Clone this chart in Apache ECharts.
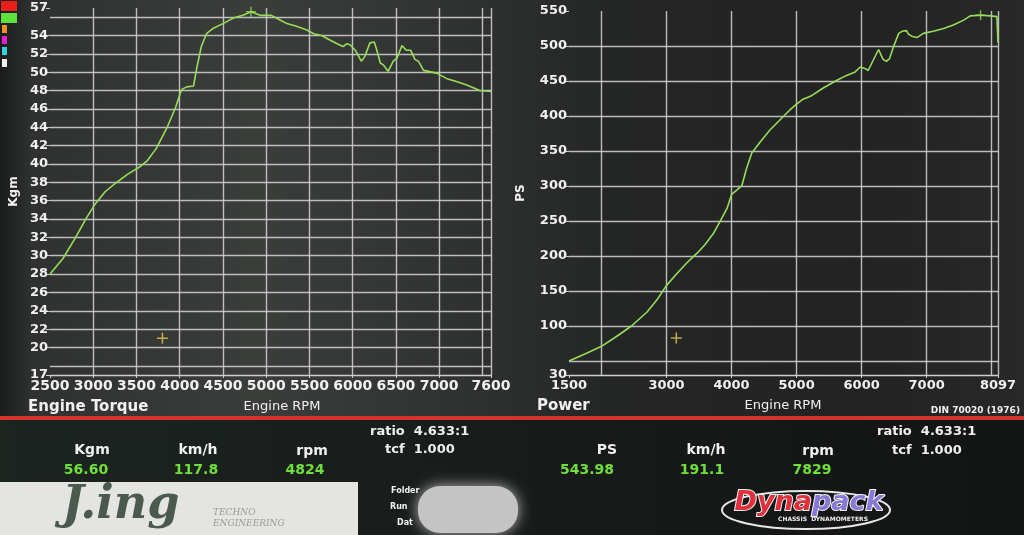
<!DOCTYPE html>
<html><head><meta charset="utf-8">
<script src="https://cdn.jsdelivr.net/npm/echarts@6/dist/echarts.min.js"></script>
<style>html,body{margin:0;padding:0;background:#222;}#c{width:1024px;height:535px;}</style>
</head><body><div id="c"></div>
<script>
// ---- Engine Torque (Kgm vs rpm) ----
const torqueRpm = [2500,2650,2790,2920,3020,3140,3270,3400,3540,3620,3730,3850,3950,4020,4080,4160,4200,4250,4310,4390,4500,4620,4730,4824,4930,5060,5160,5240,5350,5470,5550,5640,5720,5820,5890,5930,5970,6030,6100,6140,6200,6250,6280,6320,6355,6410,6470,6510,6570,6620,6670,6720,6760,6820,6970,7090,7200,7320,7470,7600];
const torqueKgm = [28.0,29.7,31.9,34.1,35.6,37.0,38.0,38.9,39.7,40.3,41.7,43.9,46.1,48.1,48.4,48.5,50.6,52.8,54.2,54.8,55.3,55.9,56.2,56.6,56.2,56.2,55.7,55.3,55.0,54.6,54.2,54.0,53.6,53.1,52.8,53.1,53.0,52.4,51.2,51.7,53.2,53.3,52.4,51.0,50.8,50.1,51.2,51.5,52.9,52.4,52.4,51.4,51.2,50.2,49.9,49.3,49.0,48.6,48.0,47.9];
// ---- Power (PS vs rpm) ----
const powerRpm = [1500,1770,2000,2230,2460,2700,2850,3000,3160,3310,3470,3590,3720,3850,3930,4000,4080,4160,4230,4310,4440,4590,4750,4900,5000,5100,5230,5410,5620,5770,5900,5980,6050,6100,6180,6260,6330,6380,6430,6490,6570,6620,6690,6720,6770,6850,6950,7100,7260,7410,7570,7670,7829,7980,8080,8097];
const powerPs = [50,61,71,85,100,120,137,158,175,190,204,216,232,254,268,288,294,301,325,347,363,380,395,409,417,424,429,440,451,458,463,470,468,465,480,495,481,478,482,499,518,521,522,517,514,512,518,521,525,530,537,543,544,543,542,505];

// tick labels and grid lines
const torqueXTicks = [2500,3000,3500,4000,4500,5000,5500,6000,6500,7000,7600];
const torqueXGrid = [3000,3500,4000,4500,5000,5500,6000,6500,7000,7500,7600];
const torqueYTicks = [17,20,22,24,26,28,30,32,34,36,38,40,42,44,46,48,50,52,54,57];
const torqueYGrid = [18,20,22,24,26,28,30,32,34,36,38,40,42,44,46,48,50,52,54,56];
const powerXTicks = [1500,3000,4000,5000,6000,7000,8097];
const powerXGrid = [2000,3000,4000,5000,6000,7000,8000,8097];
const powerYTicks = [30,100,150,200,250,300,350,400,450,500,550];
const powerYGrid = [50,100,150,200,250,300,350,400,450,500];

// cursor markers and peaks
const torqueCursor = [[3800, 21]];
const powerCursor = [[3150, 83]];
const torquePeak = [[4824, 56.6]];
const powerPeak = [[7829, 544]];

const chart = echarts.init(document.getElementById('c'), null, {renderer:'canvas', width:1024, height:535});
const GRID = '#cdcdcd';
const TXT = '#f0f0f0';
const CURVE = '#96de58';
const GREEN = '#6fe03a';
const FONT = 'DejaVu Sans';
const CROSS = 'path://M0,4.3h10v1.4h-10zM4.3,0h1.4v10h-1.4z';

function gridLines(xs, ys){
  return {silent:true, symbol:['none','none'], z:1, animation:false, label:{show:false},
    lineStyle:{color:GRID, width:1.4, type:'solid', opacity:0.9},
    emphasis:{disabled:true},
    data: xs.map(v=>({xAxis:v})).concat(ys.map(v=>({yAxis:v})))};
}
function plain(v){ return String(v); }
function xAxisCfg(gi, min, max, ticks, fs){
  return {gridIndex:gi, type:'value', min:min, max:max,
    axisLine:{show:true, lineStyle:{color:GRID, width:1.4}},
    axisTick:{show:true, length:3, lineStyle:{color:GRID}, customValues:ticks},
    axisLabel:{customValues:ticks, formatter:plain, hideOverlap:false, color:TXT, fontSize:fs, fontWeight:'bold', fontFamily:FONT, margin:4, showMinLabel:true, showMaxLabel:true},
    splitLine:{show:false}};
}
function yAxisCfg(gi, min, max, ticks, name, gap){
  return {gridIndex:gi, type:'value', min:min, max:max,
    name:name, nameLocation:'middle', nameGap:gap, nameRotate:90,
    nameTextStyle:{color:TXT, fontSize:12, fontWeight:'bold', fontFamily:FONT},
    axisLine:{show:false},
    axisTick:{show:true, length:4, lineStyle:{color:GRID}, customValues:ticks},
    axisLabel:{customValues:ticks, formatter:plain, hideOverlap:false, color:TXT, fontSize:13, fontWeight:'bold', fontFamily:FONT, margin:2, showMinLabel:true, showMaxLabel:true},
    splitLine:{show:false}};
}
function text(x, y, t, opts){
  return {type:'text', z:100, silent:true, style:Object.assign({x:x, y:y, text:t, fill:TXT, fontSize:13, fontFamily:FONT, fontWeight:'bold', textAlign:'left', textVerticalAlign:'middle'}, opts||{})};
}

const option = {
  animation:false,
  backgroundColor:{type:'linear', x:0, y:0, x2:1, y2:0, colorStops:[
    {offset:0, color:'#1a1c1b'},{offset:0.03, color:'#2e312f'},{offset:0.25, color:'#3a3d3a'},
    {offset:0.45, color:'#303231'},{offset:0.6, color:'#242625'},{offset:0.85, color:'#222322'},{offset:1, color:'#282828'}]},
  grid:[
    {left:50, top:8, width:441, height:367, containLabel:false},
    {left:569, top:11, width:429, height:364, containLabel:false}
  ],
  xAxis:[ xAxisCfg(0, 2500, 7600, torqueXTicks, 14), xAxisCfg(1, 1500, 8097, powerXTicks, 13) ],
  yAxis:[ yAxisCfg(0, 17, 57, torqueYTicks, 'Kgm', 30), yAxisCfg(1, 30, 550, powerYTicks, 'PS', 42) ],
  series:[
    {type:'line', xAxisIndex:0, yAxisIndex:0, z:10, symbol:'none', smooth:false,
     data: torqueRpm.map((r,i)=>[r, torqueKgm[i]]),
     lineStyle:{color:CURVE, width:1.6},
     markLine: gridLines(torqueXGrid, torqueYGrid)},
    {type:'line', xAxisIndex:1, yAxisIndex:1, z:10, symbol:'none', smooth:false,
     data: powerRpm.map((r,i)=>[r, powerPs[i]]),
     lineStyle:{color:CURVE, width:1.6},
     markLine: gridLines(powerXGrid, powerYGrid)},
    {type:'scatter', xAxisIndex:0, yAxisIndex:0, z:11, symbol:CROSS, symbolSize:11, data:torqueCursor, itemStyle:{color:'#e8c850'}},
    {type:'scatter', xAxisIndex:1, yAxisIndex:1, z:11, symbol:CROSS, symbolSize:11, data:powerCursor, itemStyle:{color:'#e8c850'}},
    {type:'scatter', xAxisIndex:0, yAxisIndex:0, z:11, symbol:CROSS, symbolSize:10, data:torquePeak, itemStyle:{color:CURVE}},
    {type:'scatter', xAxisIndex:1, yAxisIndex:1, z:11, symbol:CROSS, symbolSize:10, data:powerPeak, itemStyle:{color:CURVE}}
  ],
  graphic:[
    // legend colour squares
    {type:'rect', z:50, silent:true, shape:{x:1, y:1, width:16, height:10}, style:{fill:'#e8201c'}},
    {type:'rect', z:50, silent:true, shape:{x:1, y:13, width:16, height:10}, style:{fill:'#5fe03a'}},
    {type:'rect', z:50, silent:true, shape:{x:2, y:25, width:5, height:8}, style:{fill:'#f09020'}},
    {type:'rect', z:50, silent:true, shape:{x:2, y:36, width:5, height:8}, style:{fill:'#e020d0'}},
    {type:'rect', z:50, silent:true, shape:{x:2, y:47, width:5, height:8}, style:{fill:'#30d0e0'}},
    {type:'rect', z:50, silent:true, shape:{x:2, y:59, width:5, height:8}, style:{fill:'#f0f0f0'}},
    // chart captions
    text(28, 407, 'Engine Torque', {fontSize:15}),
    text(282, 407, 'Engine RPM', {fontWeight:'normal', textAlign:'center'}),
    text(537, 406, 'Power', {fontSize:15}),
    text(783, 406, 'Engine RPM', {fontWeight:'normal', textAlign:'center'}),
    text(1020, 411, 'DIN 70020 (1976)', {fontSize:9, textAlign:'right'}),
    // red separator and lower panel
    {type:'rect', z:40, silent:true, shape:{x:0, y:419, width:1024, height:116}, style:{fill:{type:'linear', x:0, y:0, x2:1, y2:0, colorStops:[{offset:0, color:'#1c2420'},{offset:0.5, color:'#181b1a'},{offset:1, color:'#131414'}]}}},
    {type:'rect', z:41, silent:true, shape:{x:0, y:416, width:1024, height:4}, style:{fill:'#d3352c'}},
    // left readout
    text(92, 450, 'Kgm', {fontSize:14, textAlign:'center'}),
    text(198, 450, 'km/h', {fontSize:14, textAlign:'center'}),
    text(312, 451, 'rpm', {fontSize:14, textAlign:'center'}),
    text(370, 432, 'ratio  4.633:1', {fontSize:13}),
    text(385, 450, 'tcf  1.000', {fontSize:13}),
    text(86, 470, '56.60', {fontSize:14, textAlign:'center', fill:GREEN}),
    text(196, 470, '117.8', {fontSize:14, textAlign:'center', fill:GREEN}),
    text(305, 470, '4824', {fontSize:14, textAlign:'center', fill:GREEN}),
    // right readout
    text(607, 450, 'PS', {fontSize:14, textAlign:'center'}),
    text(706, 450, 'km/h', {fontSize:14, textAlign:'center'}),
    text(818, 451, 'rpm', {fontSize:14, textAlign:'center'}),
    text(877, 432, 'ratio  4.633:1', {fontSize:13}),
    text(892, 451, 'tcf  1.000', {fontSize:13}),
    text(587, 470, '543.98', {fontSize:14, textAlign:'center', fill:GREEN}),
    text(702, 470, '191.1', {fontSize:14, textAlign:'center', fill:GREEN}),
    text(812, 470, '7829', {fontSize:14, textAlign:'center', fill:GREEN}),
    // logo box
    {type:'rect', z:50, silent:true, shape:{x:0, y:482, width:358, height:53}, style:{fill:'#e4e4e1'}},
    text(62, 506, 'J.ing', {fontSize:46, fontFamily:'DejaVu Serif', fontStyle:'italic', fill:'#4a5a4e'}),
    text(213, 513, 'TECHNO', {fontSize:9, fontWeight:'normal', fontFamily:'DejaVu Serif', fontStyle:'italic', fill:'#9a9a9a'}),
    text(213, 524, 'ENGINEERING', {fontSize:9, fontWeight:'normal', fontFamily:'DejaVu Serif', fontStyle:'italic', fill:'#9a9a9a'}),
    text(391, 491, 'Folder', {fontSize:8}),
    text(390, 507, 'Run', {fontSize:8}),
    text(397, 523, 'Dat', {fontSize:8}),
    {type:'rect', z:60, silent:true, shape:{x:418, y:486, width:100, height:47, r:22}, style:{fill:'#c4c4c4', shadowBlur:14, shadowColor:'#b8b8b8'}},
    // Dynapack logo
    {type:'ellipse', z:60, silent:true, shape:{cx:806, cy:510, rx:84, ry:19}, style:{fill:'none', stroke:'#e8e8e8', lineWidth:2}},
    {type:'text', z:61, silent:true, style:{x:809, y:503, text:'{a|Dyna}{b|pack}', textAlign:'center', textVerticalAlign:'middle',
      rich:{a:{fontSize:27, fontWeight:'900', fontStyle:'italic', fontFamily:'DejaVu Sans', fill:'#e0303c', stroke:'#f4f4f4', lineWidth:2},
            b:{fontSize:27, fontWeight:'900', fontStyle:'italic', fontFamily:'DejaVu Sans', fill:'#8a78d8', stroke:'#f4f4f4', lineWidth:2}}}},
    text(823, 519, 'CHASSIS  DYNAMOMETERS', {fontSize:6, textAlign:'center', fill:'#f0f0f0'})
  ]
};
chart.setOption(option);
</script>
</body></html>
